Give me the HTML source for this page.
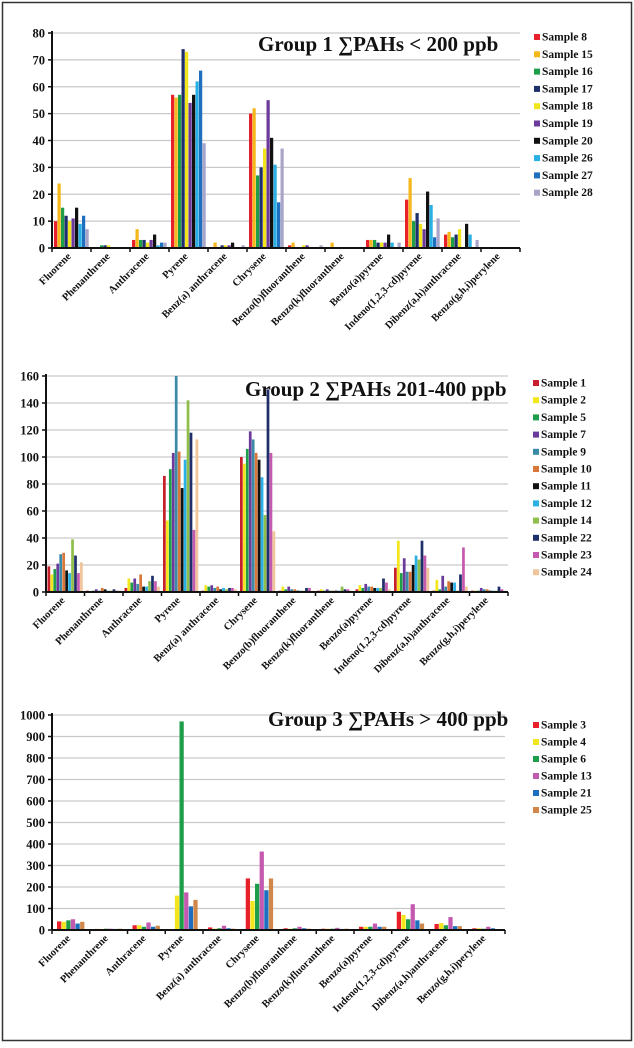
<!DOCTYPE html>
<html><head><meta charset="utf-8">
<style>
html,body{margin:0;padding:0;background:#fff;}
svg{display:block;}
text{font-family:"Liberation Serif","DejaVu Serif",serif;font-weight:bold;fill:#111;}
</style></head>
<body>
<svg id="chart" width="634" height="1048" viewBox="0 0 634 1048" xmlns="http://www.w3.org/2000/svg">
<rect x="2.5" y="2.5" width="629" height="1038" fill="#fff" stroke="#333" stroke-width="1.5"/>
</svg>
<script>
const categories = ["Fluorene","Phenanthrene","Anthracene","Pyrene","Benz(a) anthracene","Chrysene","Benzo(b)fluoranthene","Benzo(k)fluoranthene","Benzo(a)pyrene","Indeno(1,2,3-cd)pyrene","Dibenz(a,h)anthracene","Benzo(g,h,i)perylene"];

// Group 1
const g1Samples = ["Sample 8","Sample 15","Sample 16","Sample 17","Sample 18","Sample 19","Sample 20","Sample 26","Sample 27","Sample 28"];
const g1Colors = ["#e8202a","#f5b719","#1f9e4a","#1f2f6b","#f3e51c","#6b3a9a","#111111","#2ab0e4","#1f6fbf","#a9a5c8"];
const g1Values = [
 [10,0,3,57,0,50,1,0,3,18,5,0],
 [24,0,7,56,2,52,2,2,3,26,6,0],
 [15,1,3,57,0,27,0,0,3,10,4,0],
 [12,1,3,74,1,30,0,0,2,13,5,0],
 [10,1,2,73,1,37,1,0,2,9,7,0],
 [11,0,3,54,1,55,1,0,2,7,0,0],
 [15,0,5,57,2,41,0,0,5,21,9,0],
 [9,0,1,62,0,31,0,0,2,16,5,0],
 [12,0,2,66,0,17,0,0,0,4,0,0],
 [7,0,2,39,1,37,1,0,2,11,3,0]
];
const g1Ticks = [0,10,20,30,40,50,60,70,80];

// Group 2
const g2Samples = ["Sample 1","Sample 2","Sample 5","Sample 7","Sample 9","Sample 10","Sample 11","Sample 12","Sample 14","Sample 22","Sample 23","Sample 24"];
const g2Colors = ["#c8202a","#f4e61c","#1f9e4a","#6b3a9a","#3a8aa8","#d9773a","#111111","#2ab0e4","#8fbf4a","#1f2f6b","#c45ab0","#f2c49a"];
const g2Values = [
 [19,1,3,86,1,100,1,1,2,18,1,1],
 [13,0,10,53,5,95,4,2,5,38,9,1],
 [17,1,7,91,4,106,2,1,3,14,2,1],
 [21,2,10,103,5,119,4,2,6,25,12,3],
 [28,1,6,160,3,113,2,1,4,15,4,2],
 [29,3,13,104,4,103,2,1,4,15,8,2],
 [16,2,4,77,2,98,1,1,3,20,7,1],
 [14,1,4,98,3,85,1,1,3,27,7,1],
 [39,1,8,142,2,57,1,4,3,24,1,1],
 [27,2,12,118,3,150,3,2,10,38,13,4],
 [14,1,8,46,3,103,3,2,7,27,33,2],
 [22,1,4,113,2,45,1,1,2,18,4,1]
];
const g2Ticks = [0,20,40,60,80,100,120,140,160];

// Group 3
const g3Samples = ["Sample 3","Sample 4","Sample 6","Sample 13","Sample 21","Sample 25"];
const g3Colors = ["#e8202a","#f3e51c","#1f9e4a","#c45ab0","#1f6fbf","#d0884a"];
const g3Values = [
 [40,5,22,0,12,240,8,6,15,85,28,8],
 [38,5,22,160,6,135,6,6,15,70,32,8],
 [45,6,15,970,8,215,8,6,15,50,22,6],
 [50,6,35,175,20,365,15,10,30,120,60,15],
 [30,5,15,110,8,185,8,5,15,45,18,8],
 [38,6,20,140,6,240,6,6,15,30,18,0]
];
const g3Ticks = [0,100,200,300,400,500,600,700,800,900,1000];

const NS = "http://www.w3.org/2000/svg";
const svg = document.getElementById('chart');
function mk(tag, attrs){ const e=document.createElementNS(NS,tag); for(const k in attrs) e.setAttribute(k,attrs[k]); return e; }

function drawChart(o){
  const g = mk('g',{});
  
  
  svg.appendChild(g);
  const n = categories.length;
  const step = (o.x1 - o.x0)/n;
  const yScale = v => o.y0 - (v - 0)/(o.max) * (o.y0 - o.yTop);
  const xScale = i => o.x0 + i*step;
  // gridlines & y ticks
  o.ticks.forEach(t=>{
    const y = yScale(t);
    if(t>0){
      const l = mk('line',{x1:o.x0,x2:o.x1,y1:y,y2:y,stroke:'#c9c9c9','stroke-width':1.2});
      
      
      g.appendChild(l);
    }
    const tk = mk('line',{x1:o.x0-4,x2:o.x0,y1:y,y2:y,stroke:'#111','stroke-width':1.5});
    g.appendChild(tk);
    const tx = mk('text',{x:o.x0-7,y:y+4.5,'text-anchor':'end','font-size':12.5});
    tx.textContent = t;
    
    
    g.appendChild(tx);
  });
  // title
  const ti = mk('text',{x:o.titleX,y:o.titleY,'font-size':o.titleSize,'font-weight':'bold'});
  ti.textContent = o.title;
  
  
  g.appendChild(ti);
  // bars
  const ns = o.values.length;
  const bw = (step - o.pad*2)/ns;
  for(let s=0;s<ns;s++){
    for(let c=0;c<n;c++){
      const v = o.values[s][c];
      if(v<=0) continue;
      const y = yScale(v);
      const r = mk('rect',{x:xScale(c)+o.pad+s*bw,y:y,width:bw*0.92,height:o.y0-y,fill:o.colors[s]});
      
      
      g.appendChild(r);
    }
  }
  // axes
  const ya = mk('line',{x1:o.x0,x2:o.x0,y1:o.yTop-2,y2:o.y0,stroke:'#111','stroke-width':2});
  
  
  g.appendChild(ya);
  const xa = mk('line',{x1:o.x0,x2:o.x1,y1:o.y0,y2:o.y0,stroke:'#111','stroke-width':2});
  
  
  g.appendChild(xa);
  for(let i=0;i<=n;i++){
    g.appendChild(mk('line',{x1:xScale(i),x2:xScale(i),y1:o.y0,y2:o.y0+4,stroke:'#111','stroke-width':1.5}));
  }
  categories.forEach((c,i)=>{
    const cx = xScale(i)+step/2, cy = o.y0+9;
    const t = mk('text',{x:cx,y:cy,'text-anchor':'end','font-size':10.5,transform:`rotate(-45 ${cx} ${cy})`});
    t.textContent = c;
    
    
    g.appendChild(t);
  });
  // legend
  o.samples.forEach((s,i)=>{
    const y = o.legY + i*o.legStep;
    const sq = mk('rect',{x:o.legX,y:y-6,width:6,height:6,fill:o.colors[i]});
    
    
    g.appendChild(sq);
    const t = mk('text',{x:o.legX+8,y:y+0.5,'font-size':11.5});
    t.textContent = s;
    
    
    g.appendChild(t);
  });
}

drawChart({id:'group1',x0:52,x1:520,y0:248,yTop:33,max:80,ticks:g1Ticks,values:g1Values,colors:g1Colors,samples:g1Samples,
  title:'Group 1  \u2211PAHs < 200 ppb',titleX:258,titleY:51,titleSize:21,legX:534,legY:40,legStep:17.3,pad:2});
drawChart({id:'group2',x0:46,x1:508,y0:592,yTop:376,max:160,ticks:g2Ticks,values:g2Values,colors:g2Colors,samples:g2Samples,
  title:'Group 2 \u2211PAHs 201-400 ppb',titleX:245,titleY:396,titleSize:21,legX:533,legY:386,legStep:17.2,pad:1.5});
drawChart({id:'group3',x0:52,x1:505,y0:930,yTop:715,max:1000,ticks:g3Ticks,values:g3Values,colors:g3Colors,samples:g3Samples,
  title:'Group 3 \u2211PAHs > 400 ppb',titleX:268,titleY:726,titleSize:21,legX:533,legY:728,legStep:17,pad:5});
</script>
</body></html>
